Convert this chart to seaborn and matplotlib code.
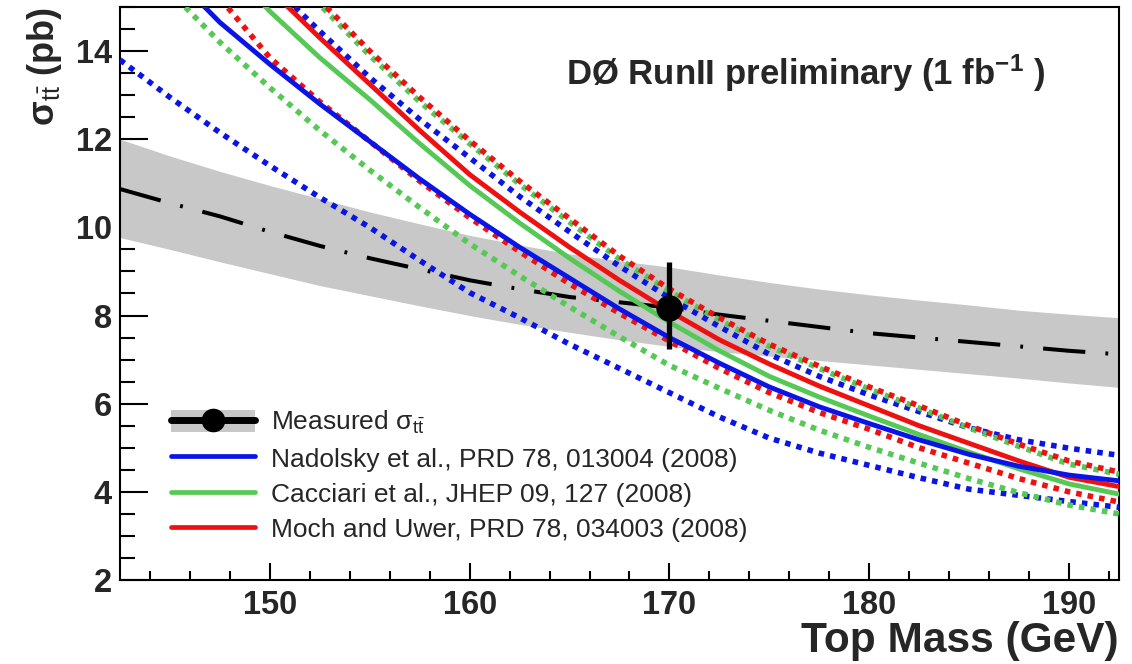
import matplotlib
matplotlib.use('Agg')
import matplotlib.pyplot as plt
import seaborn as sns
import numpy as np
import pandas as pd
from matplotlib.patches import Patch
from matplotlib.lines import Line2D
from matplotlib.ticker import MultipleLocator

# top mass grid (GeV)
top_mass = [142.5, 145.0, 147.5, 150.0, 152.5, 155.0, 157.5, 160.0, 162.5, 165.0, 167.5,
            170.0, 172.5, 175.0, 177.5, 180.0, 182.5, 185.0, 187.5, 190.0, 192.5]

# measured cross section vs mass (central, band)
meas_c = [10.87, 10.55, 10.25, 9.9, 9.58, 9.3, 9.05, 8.8, 8.6, 8.42, 8.3,
          8.18, 8.02, 7.88, 7.74, 7.6, 7.5, 7.4, 7.3, 7.2, 7.12]
meas_hi = [12.0, 11.62, 11.27, 10.95, 10.65, 10.35, 10.08, 9.82, 9.6, 9.4, 9.24,
           9.1, 8.92, 8.75, 8.6, 8.47, 8.35, 8.24, 8.12, 8.03, 7.95]
meas_lo = [9.77, 9.5, 9.22, 8.95, 8.68, 8.45, 8.22, 8.0, 7.8, 7.62, 7.45,
           7.3, 7.18, 7.08, 6.98, 6.88, 6.78, 6.68, 6.58, 6.47, 6.37]

# measured point at 170 GeV
point_mass = [170.0]
point_xs = [8.18]
point_err_lo = [0.93]
point_err_hi = [1.04]

# Nadolsky et al. (central, upper, lower)
nad_c = [17.0, 15.8, 14.65, 13.7, 12.8, 11.95, 11.1, 10.3, 9.55, 8.85, 8.15,
         7.5, 6.92, 6.38, 5.93, 5.55, 5.18, 4.85, 4.58, 4.38, 4.25]
nad_up = [19.3, 18.0, 16.7, 15.55, 14.45, 13.4, 12.45, 11.58, 10.7, 9.9, 9.12,
          8.4, 7.75, 7.12, 6.62, 6.2, 5.82, 5.45, 5.18, 4.99, 4.83]
nad_lo = [13.8, 12.95, 12.15, 11.4, 10.68, 10.0, 9.25, 8.52, 7.95, 7.35, 6.8,
          6.25, 5.7, 5.22, 4.88, 4.6, 4.32, 4.06, 3.92, 3.78, 3.65]

# Cacciari et al.
cac_c = [18.8, 17.4, 16.1, 14.9, 13.85, 12.9, 11.9, 10.95, 10.1, 9.3, 8.55,
         7.85, 7.2, 6.62, 6.15, 5.72, 5.3, 4.9, 4.52, 4.18, 3.95]
cac_up = [20.4, 18.9, 17.6, 16.4, 15.05, 13.9, 12.85, 11.9, 10.98, 10.12, 9.28,
          8.55, 7.9, 7.3, 6.8, 6.33, 5.9, 5.45, 5.03, 4.63, 4.4]
cac_lo = [16.6, 15.35, 14.2, 13.17, 12.2, 11.3, 10.45, 9.63, 8.9, 8.2, 7.52,
          6.87, 6.35, 5.85, 5.4, 5.01, 4.65, 4.3, 3.98, 3.7, 3.5]

# Moch and Uwer
moch_c = [19.2, 17.8, 16.6, 15.4, 14.3, 13.25, 12.2, 11.2, 10.35, 9.55, 8.8,
          8.1, 7.45, 6.9, 6.4, 5.95, 5.5, 5.1, 4.7, 4.33, 4.12]
moch_up = [20.5, 19.0, 17.7, 16.5, 15.15, 14.0, 12.95, 11.97, 11.05, 10.2, 9.35,
           8.6, 7.95, 7.35, 6.85, 6.38, 5.95, 5.5, 5.08, 4.7, 4.45]
moch_lo = [18.3, 16.6, 15.2, 13.85, 12.85, 11.95, 11.05, 10.22, 9.45, 8.72, 8.05,
           7.42, 6.8, 6.25, 5.8, 5.42, 5.0, 4.65, 4.3, 4.0, 3.77]

labels = [r"Measured σ$_{t\bar{t}}$",
          "Nadolsky et al., PRD 78, 013004 (2008)",
          "Cacciari et al., JHEP 09, 127 (2008)",
          "Moch and Uwer, PRD 78, 034003 (2008)"]

BLUE = '#0a14e6'
GREEN = '#55c855'
RED = '#ee1111'
BAND = '#c8c8c8'

sns.set_theme(style='ticks')
plt.rcParams['font.family'] = ['Liberation Sans', 'DejaVu Sans']
plt.rcParams['mathtext.fontset'] = 'custom'
plt.rcParams['mathtext.rm'] = 'Liberation Sans'
plt.rcParams['mathtext.it'] = 'Liberation Sans'
plt.rcParams['mathtext.bf'] = 'Liberation Sans:bold'

fig = plt.figure(figsize=(11.32, 6.64), dpi=100)
ax = fig.add_axes([0.106, 0.1265, 0.8825, 0.863])

# measurement band and dash-dot central line
ax.fill_between(top_mass, meas_lo, meas_hi, color=BAND, lw=0, zorder=1)
sns.lineplot(x=top_mass, y=meas_c, color='black', lw=2.9,
             linestyle=(0, (10.5, 5, 0.7, 5)), ax=ax, zorder=2)

# theory uncertainties (dotted), then central values (solid)
dotted = (0, (1.0, 1.1))
for series, col in [(nad_up, BLUE), (nad_lo, BLUE), (cac_up, GREEN), (cac_lo, GREEN),
                    (moch_up, RED), (moch_lo, RED)]:
    sns.lineplot(x=top_mass, y=series, color=col, lw=4.0, linestyle=dotted, ax=ax, zorder=3)

for series, col in [(cac_c, GREEN), (moch_c, RED), (nad_c, BLUE)]:
    sns.lineplot(x=top_mass, y=series, color=col, lw=3.5, ax=ax, zorder=4)

ax.errorbar(point_mass, point_xs, yerr=[point_err_lo, point_err_hi], fmt='o', color='black',
            ms=18, elinewidth=3.8, capsize=0, zorder=6)

ax.set_xlim(142.5, 192.5)
ax.set_ylim(2, 15)
ax.xaxis.set_major_locator(MultipleLocator(10))
ax.xaxis.set_minor_locator(MultipleLocator(2))
ax.yaxis.set_major_locator(MultipleLocator(2))
ax.yaxis.set_minor_locator(MultipleLocator(0.5))
ax.tick_params(axis='both', which='both', direction='in', top=False, right=False,
               color='black', width=1.5)
ax.tick_params(axis='y', which='major', length=20, pad=6)
ax.tick_params(axis='y', which='minor', length=10.5)
ax.tick_params(axis='x', which='major', length=12.5, pad=7)
ax.tick_params(axis='x', which='minor', length=6.7)
for lab in ax.get_xticklabels() + ax.get_yticklabels():
    lab.set_fontsize(23.5)
    lab.set_fontweight('bold')
for sp in ax.spines.values():
    sp.set_color('black')
    sp.set_linewidth(1.5)

ax.set_xlabel('Top Mass (GeV)', fontsize=30.5, fontweight='bold', loc='right', labelpad=0)
ax.set_ylabel(r"σ$_{t\bar{t}}$ (pb)", fontsize=26, fontweight='bold', loc='top', labelpad=8)

ax.text(0.926, 0.864, r"DØ RunII preliminary (1 fb$^{\mathbf{-1}}$ )", transform=ax.transAxes,
        ha='right', va='baseline', fontsize=25, fontweight='bold')

handles = [(Patch(facecolor=BAND, edgecolor='none'),
            Line2D([], [], color='black', lw=5, marker='o', ms=16)),
           Line2D([], [], color=BLUE, lw=3.4),
           Line2D([], [], color=GREEN, lw=3.4),
           Line2D([], [], color=RED, lw=3.4)]
ax.legend(handles, labels, loc='upper left', bbox_to_anchor=(0.051, 0.298), frameon=False,
          fontsize=19, handlelength=3.2, handleheight=0.9, handletextpad=0.6,
          labelspacing=0.38, borderpad=0, borderaxespad=0)

plt.savefig('out.png', dpi=100)
plt.close()
